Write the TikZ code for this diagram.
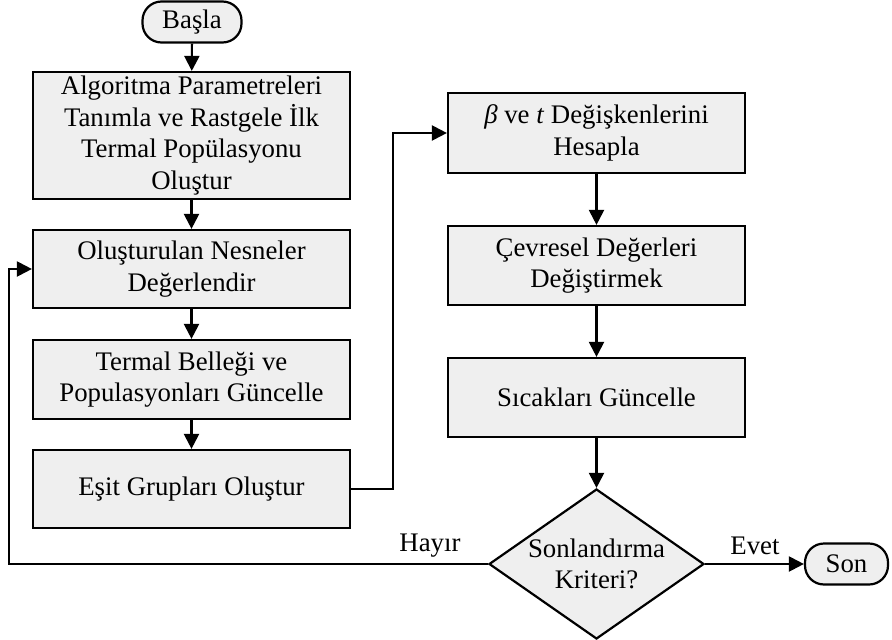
\documentclass[tikz,border=0pt]{standalone}
\usepackage{fontspec}
\setmainfont{Liberation Serif}
\usetikzlibrary{shapes.geometric,arrows.meta}
\definecolor{boxfill}{HTML}{EFEFEF}
\begin{document}
\begin{tikzpicture}[x=1pt,y=-1pt,
  font=\fontsize{26.8}{31.7}\selectfont,
  stepbox/.style={draw=black, line width=2.2pt, fill=boxfill, align=center,
    minimum width=317pt, inner sep=0pt},
  rstepbox/.style={stepbox, minimum width=297pt},
  terminal/.style={draw=black, line width=2.2pt, fill=boxfill, rounded corners=19pt,
    minimum height=41pt, inner sep=0pt},
  flow/.style={line width=2.2pt, -{Triangle[length=15pt,width=15pt]}}]
\useasboundingbox (0,0) rectangle (892,640);

% start / end
\node[terminal, minimum width=99pt] (start) at (192,22) {Başla};
\node[terminal, minimum width=83pt] (son) at (846.5,564) {Son};

% left column
\node[stepbox, minimum height=127pt] (b1) at (191.5,135.5)
  {Algoritma Parametreleri\\Tanımla ve Rastgele İlk\\Termal Popülasyonu\\Oluştur};
\node[stepbox, minimum height=78pt] (b2) at (191.5,269)
  {Oluşturulan Nesneler\\Değerlendir};
\node[stepbox, minimum height=79pt] (b3) at (191.5,379.5)
  {Termal Belleği ve\\Populasyonları Güncelle};
\node[stepbox, minimum height=78pt] (b4) at (191.5,489)
  {Eşit Grupları Oluştur};

% right column
\node[rstepbox, minimum height=80pt] (r1) at (596.5,133)
  {\textit{β} ve \textit{t} Değişkenlerini\\Hesapla};
\node[rstepbox, minimum height=79pt] (r2) at (596.5,265.5)
  {Çevresel Değerleri\\Değiştirmek};
\node[rstepbox, minimum height=79pt] (r3) at (596.5,397.5)
  {Sıcakları Güncelle};

% decision
\node[diamond, draw=black, line width=2.2pt, fill=boxfill, inner sep=0pt,
  minimum width=215pt, minimum height=150pt] (dec) at (596.5,564) {};
\node[align=center] (dectext) at (dec) {Sonlandırma\\Kriteri?};

% routing points
\coordinate (jog) at (393,0);
\coordinate (loop) at (9,0);

% connectors
\draw[flow] (start) -- (b1);
\draw[flow] (b1) -- (b2);
\draw[flow] (b2) -- (b3);
\draw[flow] (b3) -- (b4);
\draw[flow] (b4.east) -- (b4.east -| jog) |- (r1.west);
\draw[flow] (r1) -- (r2);
\draw[flow] (r2) -- (r3);
\draw[flow] (r3) -- (dec);
\draw[flow] (dec.east) -- (son.west);
\draw[flow] (dec.west) -- (dec.west -| loop) |- (b2.west);

% branch labels
\node (hayir) at (430,546) {Hayır};
\node (evet) at (755,546) {Evet};
\end{tikzpicture}
\end{document}
